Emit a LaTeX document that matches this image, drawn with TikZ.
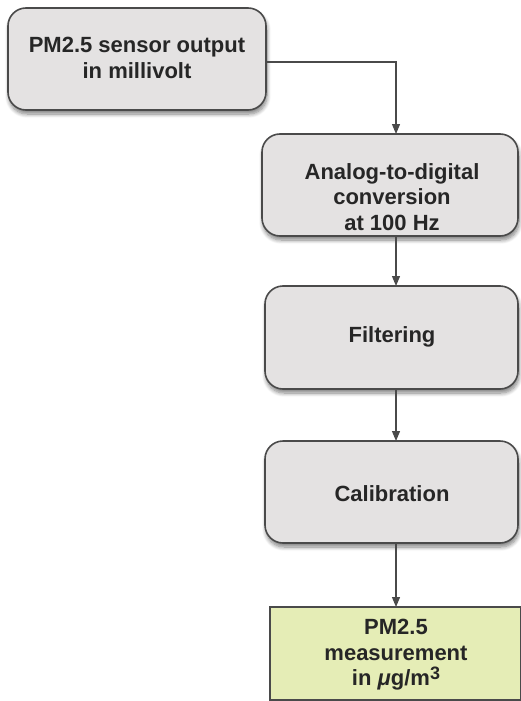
\documentclass[tikz,border=0pt]{standalone}
\usepackage{fontspec}
\setmainfont{Liberation Sans}
\usetikzlibrary{arrows.meta,shadows.blur}
\definecolor{boxgray}{HTML}{E4E2E2}
\definecolor{boxgreen}{HTML}{E5EDB6}
\definecolor{edge}{HTML}{4A4A4A}
\begin{document}
\begin{tikzpicture}[x=1pt,y=-1pt,
  stage/.style={draw=edge,line width=1.6pt,fill=boxgray,rounded corners=18pt,
    blur shadow={shadow xshift=1pt,shadow yshift=-4pt,shadow blur steps=8,shadow blur radius=4pt,shadow opacity=50}},
  result/.style={draw=edge,line width=1.4pt,fill=boxgreen},
  lbl/.style={align=center,font=\fontsize{22}{25.5}\selectfont\bfseries,text=black!85},
  flow/.style={draw=edge,line width=1.2pt,-{Triangle[length=10pt,width=8pt]}}]
\useasboundingbox (0,0) rectangle (521,701);
% processing stages
\draw[stage] (8,8) rectangle (266,110);
\node[lbl] (s1) at (137,58) {PM2.5 sensor output\\in millivolt};
\draw[stage] (262,134) rectangle (518,236);
\node[lbl] (s2) at (392,197) {Analog-to-digital\\conversion\\at 100 Hz};
\draw[stage] (265,286) rectangle (518,389);
\node[lbl] (s3) at (392,337) {Filtering};
\draw[stage] (265,441) rectangle (518,543);
\node[lbl] (s4) at (392,494) {Calibration};
\draw[result] (270,607) rectangle (521,700);
\node[lbl] (s5) at (396,655) {PM2.5\\measurement\\in \textit{μ}g/m\raisebox{0.55ex}{\fontsize{18}{18}\selectfont 3}};
% connectors
\coordinate (o1) at (266,62);
\coordinate (i2) at (396,134);
\coordinate (o2) at (396,236);
\coordinate (i3) at (396,286);
\coordinate (o3) at (396,389);
\coordinate (i4) at (396,441);
\coordinate (o4) at (396,543);
\coordinate (i5) at (396,607);
\draw[flow] (o1) -| (i2);
\draw[flow] (o2) -- (i3);
\draw[flow] (o3) -- (i4);
\draw[flow] (o4) -- (i5);
\end{tikzpicture}
\end{document}
